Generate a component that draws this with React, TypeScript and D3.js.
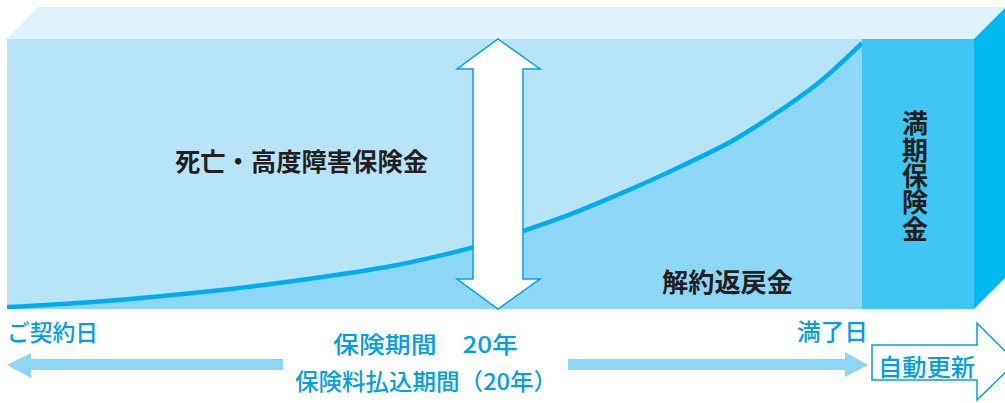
import React from 'react';
import * as d3 from 'd3';

// surrender value (% of death benefit) by policy year
const years = [0, 2, 4, 6, 8, 9, 10, 11, 12, 13, 14, 15, 16, 17, 18, 19, 20];
const surrender = [0.7, 2.6, 5.4, 8.9, 13.3, 15.9, 19.3, 23.3, 28.5, 34, 40.4, 47.2, 54.6, 62.6, 72.6, 84, 98.5];

const deathLabel = '死亡・高度障害保険金';
const surrenderLabel = '解約返戻金';
const maturityLabel = '満期保険金';
const startLabel = 'ご契約日';
const endLabel = '満了日';
const periodLabels = ['保険期間　20年', '保険料払込期間（20年）'];
const renewLabel = '自動更新';

const W = 1005;
const H = 403;
const FONT = '"Noto Sans CJK JP", "Noto Sans", sans-serif';
const BLUE = '#00a0e9';
const INK = '#231f20';

const App = () => {
    const x = d3.scaleLinear().domain([0, 20]).range([7, 862]);
    const y = d3.scaleLinear().domain([0, 100]).range([309, 39]);

    const pts = years.map((yr, i) => [yr, surrender[i]] as [number, number]);

    const line = d3
        .line<[number, number]>()
        .x((d) => x(d[0]))
        .y((d) => y(d[1]))
        .curve(d3.curveMonotoneX);

    const area = d3
        .area<[number, number]>()
        .x((d) => x(d[0]))
        .y0(y(0))
        .y1((d) => y(d[1]))
        .curve(d3.curveMonotoneX);

    const x0 = x(0);
    const x1 = x(20);
    const top = y(100);
    const bot = y(0);
    const blockR = 974;
    const depth = 31;

    // double arrow across the chart
    const ax = 498;
    const arrowPts = [
        [ax, top], [ax + 42, top + 30], [ax + 25, top + 30], [ax + 25, bot - 30],
        [ax + 42, bot - 30], [ax, bot], [ax - 41, bot - 30], [ax - 25, bot - 30],
        [ax - 25, top + 30], [ax - 41, top + 30],
    ].map((p) => p.join(',')).join(' ');

    const ay = 365;
    const leftArrow = [
        [7, ay], [31, ay - 12], [31, ay - 6], [283, ay - 6], [283, ay + 5],
        [31, ay + 5], [31, ay + 13],
    ].map((p) => p.join(',')).join(' ');
    const rightArrow = [
        [568, ay - 6], [845, ay - 6], [845, ay - 13], [868, ay], [845, ay + 12],
        [845, ay + 5], [568, ay + 5],
    ].map((p) => p.join(',')).join(' ');
    const renewArrow = [
        [872, 345], [977, 345], [977, 323], [1016, 362], [977, 400], [977, 380], [872, 380],
    ].map((p) => p.join(',')).join(' ');

    return (
        <svg
            width={W}
            height={H}
            style={{ position: 'absolute', left: 0, top: 0, display: 'block' }}
            fontFamily={FONT}
        >
            <rect width={W} height={H} fill="#ffffff" />
            {/* top face */}
            <polygon
                points={`${x0},${top} ${x0 + depth},${top - 32} ${blockR + depth},${top - 32} ${blockR},${top}`}
                fill="#dff2fb"
            />
            {/* front face */}
            <rect x={x0} y={top} width={x1 - x0} height={bot - top} fill="#b8e4f8" />
            <path d={area(pts) || ''} fill="#8cd7f5" />
            <path d={line(pts) || ''} fill="none" stroke="#00aeef" strokeWidth={4.5} />
            {/* maturity block */}
            <rect x={x1} y={top} width={blockR - x1} height={bot - top} fill="#40c6f2" />
            <polygon
                points={`${blockR},${top} ${blockR + depth},${top - 31} ${blockR + depth},${bot - 31} ${blockR},${bot}`}
                fill="#00b9ef"
            />
            <polygon points={arrowPts} fill="#ffffff" stroke={BLUE} strokeWidth={1.5} />

            <text x={175} y={160} fontSize={25} fontWeight={700} fill={INK}
                dominantBaseline="central" textLength={253} lengthAdjust="spacingAndGlyphs">
                {deathLabel}
            </text>
            <text x={662} y={280} fontSize={26} fontWeight={700} fill={INK}
                dominantBaseline="central" textLength={131} lengthAdjust="spacingAndGlyphs">
                {surrenderLabel}
            </text>
            <text x={915} y={110} fontSize={26} fontWeight={700} fill={INK}
                style={{ writingMode: 'vertical-rl' }} textLength={132}
                lengthAdjust="spacingAndGlyphs">
                {maturityLabel}
            </text>

            <text x={7} y={331} fontSize={23} fontWeight={500} fill={BLUE} dominantBaseline="central"
                textLength={91} lengthAdjust="spacingAndGlyphs">
                {startLabel}
            </text>
            <text x={797} y={330} fontSize={23} fontWeight={500} fill={BLUE} dominantBaseline="central"
                textLength={71} lengthAdjust="spacingAndGlyphs">
                {endLabel}
            </text>
            <text x={333} y={343} fontSize={23} fontWeight={500} fill={BLUE} dominantBaseline="central"
                textLength={185} lengthAdjust="spacingAndGlyphs">
                {periodLabels[0]}
            </text>
            <text x={295} y={380} fontSize={23} fontWeight={500} fill={BLUE} dominantBaseline="central"
                textLength={262} lengthAdjust="spacingAndGlyphs">
                {periodLabels[1]}
            </text>

            <polygon points={leftArrow} fill="#8cd7f5" />
            <polygon points={rightArrow} fill="#8cd7f5" />
            <polygon points={renewArrow} fill="#ffffff" stroke={BLUE} strokeWidth={1.5} />
            <text x={878} y={365} fontSize={24} fontWeight={500} fill={BLUE} dominantBaseline="central"
                textLength={97} lengthAdjust="spacingAndGlyphs">
                {renewLabel}
            </text>
        </svg>
    );
};

export default App;
